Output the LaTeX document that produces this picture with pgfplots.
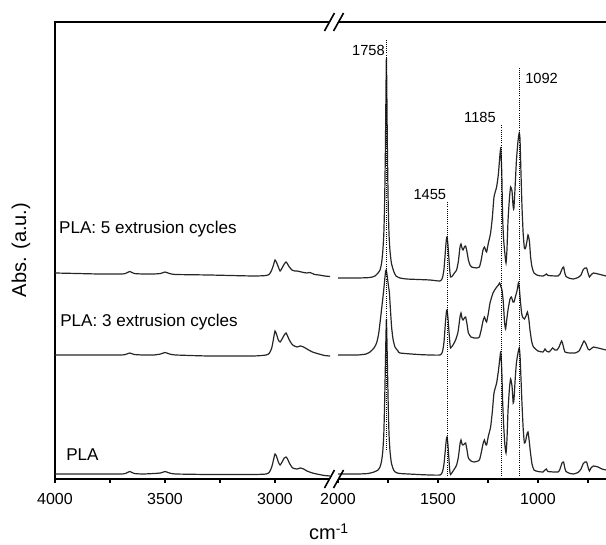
\documentclass[border=0pt]{standalone}
\usepackage{fontspec}
\setmainfont{Liberation Sans}
\usepackage{pgfplots}
\pgfplotsset{compat=1.18}

\pgfplotsset{spec/.style={
  scale only axis, height=342.75pt, ymin=0, ymax=457, x dir=reverse,
  axis x line*=bottom, ytick=\empty,
  tick align=outside, major tick length=3pt, minor tick length=3pt,
  tick style={line width=1.1pt, black},
  axis line style={line width=1.2pt},
  tick label style={font=\fontsize{12}{14}\selectfont},
  xticklabel style={yshift=-4pt},
  /pgf/number format/assume math mode=true,
  /pgf/number format/1000 sep={},
  clip=false,
},
spc/.style={black!85, line width=0.9pt, no markers, smooth, tension=0.35},
mark line/.style={sharp plot, densely dotted, line width=0.6pt, black, no markers}}

\begin{document}
\begin{tikzpicture}
\path[use as bounding box] (-41.25pt,-49.5pt) rectangle (413.25pt,359.25pt);

% left part 4000-2750
\begin{axis}[spec, at={(0pt,0pt)}, anchor=south west, width=209.25pt,
  axis y line*=left, xmin=2732, xmax=4000,
  xtick={3000,3500,4000}, minor xtick={3250,3750}]
\addplot[spc] coordinates {(4000,206)(3900,205.5)(3800,205)(3700,205)(3680,205.5)(3660,207.5)(3640,205.5)(3600,205)(3550,205)(3520,205.5)(3500,207)(3480,205.5)(3450,204.5)(3300,204)(3100,203)(3040,203.5)(3025,205)(3015,209)(3007,214)(3000,219)(2992,216)(2985,212)(2977,208)(2968,211)(2958,215)(2950,217)(2943,215)(2935,212)(2923,209)(2910,208)(2900,208)(2890,207.5)(2880,207)(2870,206.5)(2855,206)(2845,206.5)(2835,206)(2820,204.5)(2800,204)(2775,203)(2750,202.5)};
\addplot[spc] coordinates {(4000,124)(3900,124)(3800,124)(3700,124)(3680,124.5)(3660,126)(3640,124.5)(3600,124)(3550,124)(3520,125)(3500,126.5)(3480,125)(3450,124)(3300,123)(3100,123)(3040,124)(3025,126)(3015,131)(3007,140)(3000,148)(2992,144)(2985,139)(2977,137)(2968,140)(2958,144)(2950,146)(2943,143)(2935,139)(2920,134)(2900,132)(2885,133)(2870,132)(2855,130)(2830,127)(2800,125)(2775,123.5)(2750,123)};
\addplot[spc] coordinates {(4000,5)(3900,5)(3800,5)(3700,5)(3680,5.5)(3660,7.5)(3640,5.5)(3600,5)(3550,5.5)(3520,6)(3500,7.5)(3480,6)(3450,5)(3300,4.5)(3100,4.5)(3040,5)(3025,7)(3015,12)(3007,19)(3000,25)(2992,22)(2985,17)(2977,14)(2968,17)(2958,21)(2950,22)(2943,20)(2935,16)(2920,11)(2900,10)(2885,11)(2870,10)(2855,8)(2830,6)(2800,4.5)(2775,3.5)(2750,3)};
\node[anchor=west, inner sep=0pt, font=\fontsize{12.8}{15}\selectfont] at (axis cs:3982,250) {PLA: 5 extrusion cycles};
\node[anchor=west, inner sep=0pt, font=\fontsize{12.8}{15}\selectfont] at (axis cs:3977,157) {PLA: 3 extrusion cycles};
\node[anchor=west, inner sep=0pt, font=\fontsize{12.8}{15}\selectfont] at (axis cs:3950,24) {PLA};
\end{axis}

% right part 2000-660
\begin{axis}[spec, at={(209.25pt,0pt)}, anchor=south west, width=204pt,
  axis y line=none, xmin=660, xmax=2020,
  xtick={1000,1500,2000}, minor xtick={750,1250,1750}]
\addplot[spc] coordinates {(2000,201)(1900,201)(1840,201.5)(1815,203)(1800,206)(1790,209)(1782,216)(1776,228)(1771,245)(1767,275)(1763,330)(1760,390)(1758,421)(1756,390)(1753,330)(1749,275)(1745,245)(1740,228)(1733,216)(1722,208)(1710,203)(1690,201)(1657,200)(1600,199.5)(1540,199)(1490,198)(1478,201)(1470,210)(1463,228)(1458,240)(1455,242)(1451,236)(1446,222)(1441,208)(1437,202)(1428,203)(1418,206)(1407,209)(1398,218)(1390,232)(1385,235)(1380,231)(1375,229)(1368,232)(1362,233)(1355,227)(1348,219)(1340,214)(1332,212)(1307,211)(1293,212)(1284,219)(1275,229)(1268,232)(1262,229)(1257,227)(1248,236)(1237,246)(1228,262)(1220,282)(1207,292)(1198,305)(1190,325)(1186,330)(1181,305)(1177,262)(1172,240)(1166,226)(1160,216)(1155,230)(1150,258)(1143,280)(1137,292)(1130,288)(1125,274)(1121,270)(1115,290)(1108,318)(1100,338)(1094,346)(1090,340)(1085,305)(1080,272)(1074,245)(1068,231)(1062,231)(1055,238)(1050,244)(1043,238)(1037,222)(1030,212)(1020,206)(1000,203.5)(975,203)(965,204)(958,205)(950,203.5)(900,203)(890,205)(880,210)(872,212)(867,207)(860,202.5)(840,200.5)(823,200)(800,201.5)(785,204)(775,209)(765,211)(757,211)(750,206)(743,202)(735,204)(723,206)(700,205)(680,204)(660,203)};
\addplot[spc] coordinates {(2000,124)(1900,124)(1860,125)(1840,127)(1820,131)(1807,136)(1797,145)(1790,156)(1782,170)(1773,186)(1766,200)(1762,208)(1759,209)(1756,206)(1752,200)(1747,192)(1743,186)(1738,170)(1732,152)(1725,140)(1715,132)(1700,128)(1690,126)(1600,124.5)(1540,124)(1490,124)(1478,127)(1470,137)(1463,156)(1458,167)(1455,169)(1451,163)(1446,150)(1441,137)(1437,131)(1425,134)(1412,139)(1400,147)(1390,162)(1385,166)(1380,161)(1375,159)(1368,161)(1362,162)(1355,155)(1348,146)(1335,142)(1320,141)(1300,141)(1293,142)(1284,149)(1275,158)(1268,162)(1262,159)(1257,157)(1248,166)(1240,176)(1225,186)(1210,191)(1198,194)(1192,196)(1188,194)(1185,192)(1180,189)(1174,178)(1167,156)(1162,150)(1157,158)(1150,169)(1140,180)(1133,182)(1125,177)(1120,177)(1112,183)(1105,188)(1098,196)(1093,190)(1088,178)(1082,166)(1077,162)(1068,160)(1060,163)(1053,167)(1046,160)(1040,149)(1032,138)(1023,132)(1000,128)(975,127)(965,130)(958,128)(945,127)(935,129)(927,131)(915,129)(905,129)(895,132)(882,138)(875,134)(865,127)(840,126)(815,126)(795,128)(780,134)(770,138)(760,135)(750,130)(743,129)(730,131)(723,132)(700,131)(680,130)(660,129)};
\addplot[spc] coordinates {(2000,5)(1900,5)(1850,5.5)(1820,7)(1800,9)(1790,12)(1782,18)(1776,28)(1771,45)(1767,75)(1763,115)(1760,145)(1758,160)(1756,145)(1753,115)(1749,75)(1745,45)(1740,28)(1733,16)(1722,9)(1710,6.5)(1690,5.5)(1600,4.5)(1540,4)(1490,4)(1478,7)(1470,15)(1463,30)(1458,40)(1455,42)(1451,36)(1446,22)(1441,8)(1437,4.5)(1428,7)(1418,10)(1407,14)(1398,22)(1390,35)(1385,39)(1380,35)(1375,34)(1368,35)(1362,36)(1355,29)(1348,21)(1335,18)(1320,17)(1307,17.5)(1293,19)(1284,26)(1275,35)(1268,39)(1262,35)(1257,34)(1248,43)(1237,52)(1228,68)(1220,86)(1207,96)(1198,108)(1190,122)(1186,127)(1181,108)(1177,79)(1172,55)(1166,35)(1160,26)(1155,40)(1150,68)(1143,90)(1137,100)(1130,93)(1124,76)(1120,80)(1114,100)(1108,116)(1100,126)(1094,131)(1090,124)(1085,100)(1080,75)(1074,50)(1068,36)(1062,38)(1055,45)(1050,47)(1045,40)(1038,27)(1030,15)(1020,9)(1000,7.5)(975,7)(965,9)(958,10)(950,7.5)(900,7)(890,10)(880,16)(872,17)(867,12)(860,7.5)(840,5.5)(823,5)(800,6.5)(785,10)(775,15)(765,17)(757,17)(750,12)(743,8)(735,11)(723,13)(700,12)(680,10)(660,9)};
% marker lines
\addplot[mark line] coordinates {(1758,29)(1758,439)};
\addplot[mark line] coordinates {(1455,3)(1455,278)};
\addplot[mark line] coordinates {(1185,3)(1185,354)};
\addplot[mark line] coordinates {(1092,3)(1092,411)};
\node[anchor=east, inner sep=0pt, font=\fontsize{11}{13}\selectfont] at (axis cs:1765,429) {1758};
\node[anchor=east, inner sep=0pt, font=\fontsize{11}{13}\selectfont] at (axis cs:1458,284) {1455};
\node[anchor=east, inner sep=0pt, font=\fontsize{11}{13}\selectfont] at (axis cs:1210,362) {1185};
\node[anchor=west, inner sep=0pt, font=\fontsize{11}{13}\selectfont] at (axis cs:1065,401) {1092};
\end{axis}

% top frame line
\draw[line width=1.2pt] (-0.6pt,342.75pt) -- (416pt,342.75pt);

% axis break marks
\foreach \yy in {0,342.75} {
  \fill[white] (204.74pt,\yy pt-2pt) -- (206.96pt,\yy pt+2pt) -- (213.76pt,\yy pt+2pt) -- (211.54pt,\yy pt-2pt) -- cycle;
  \draw[line width=1.2pt] (202.1pt,\yy pt-6.75pt) -- (209.6pt,\yy pt+6.75pt);
  \draw[line width=1.2pt] (208.9pt,\yy pt-6.75pt) -- (216.4pt,\yy pt+6.75pt);
}

% axis titles
\node[rotate=90, font=\fontsize{15}{18}\selectfont] at (-25.5pt,171.75pt) {Abs. (a.u.)};
\node[anchor=base, font=\fontsize{15}{18}\selectfont] at (205.5pt,-45.75pt) {cm\textsuperscript{-1}};
\end{tikzpicture}
\end{document}
